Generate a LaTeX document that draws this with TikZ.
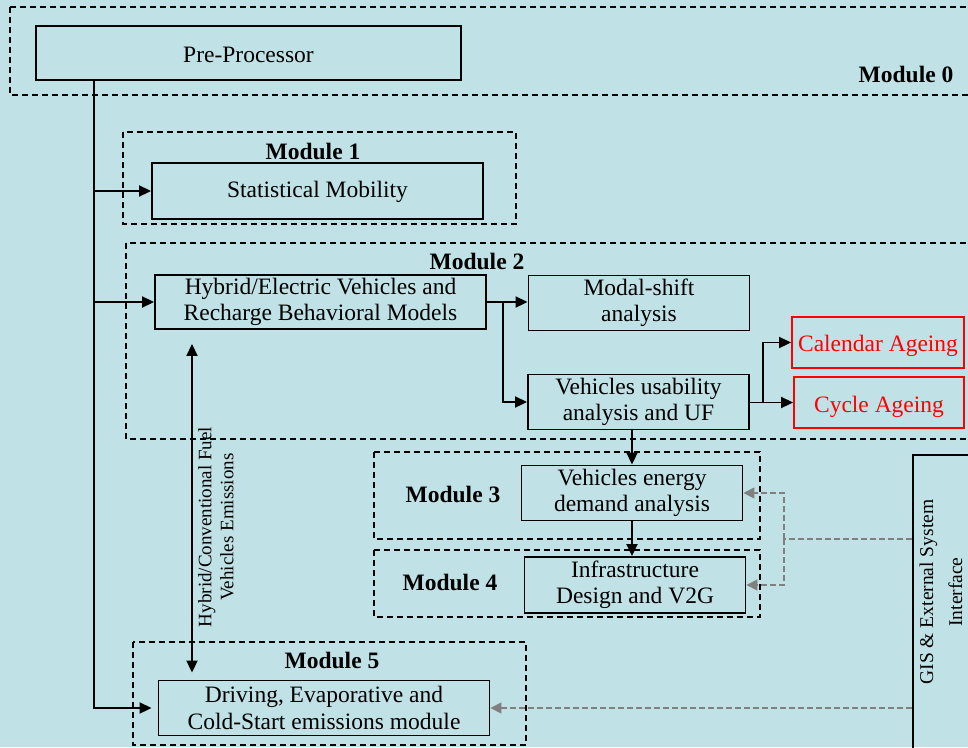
\documentclass[tikz,border=0pt]{standalone}
\usepackage{fontspec}
\setmainfont{Liberation Serif}
\usepackage{xcolor}
\usepackage{tikz}
\usetikzlibrary{positioning,arrows.meta}
\definecolor{bgblue}{RGB}{192,225,230}
\definecolor{arrgray}{RGB}{128,128,128}

\begin{document}
\begin{tikzpicture}[x=1pt,y=-1pt,
  box/.style={draw, line width=1.9pt, inner sep=0pt, align=center, font=\fontsize{23.5}{26.5}\selectfont},
  redbox/.style={box, draw=red, text=red},
  module/.style={draw, line width=1.5pt, dash pattern=on 6pt off 4pt},
  modname/.style={font=\fontsize{23.5}{26.5}\selectfont\bfseries},
  arr/.style={line width=1.9pt, -{Triangle[length=12pt,width=11pt]}},
  dblarr/.style={line width=1.9pt, {Triangle[length=12pt,width=11pt]}-{Triangle[length=12pt,width=11pt]}},
  gisline/.style={draw=arrgray, line width=1.4pt, dash pattern=on 6pt off 3pt},
  gisarr/.style={gisline, -{Triangle[length=11pt,width=11pt]}, arrgray}]
\useasboundingbox (0,0) rectangle (968,747);
\fill[bgblue] (0,0) rectangle (968,747);
\clip (0,0) rectangle (968,747);

\draw[module] (10,7) rectangle (990,95);
\draw[module] (123,132) rectangle (516,224);
\draw[module] (126,243) rectangle (990,439);
\draw[module] (374,452) rectangle (760,539);
\draw[module] (374,550) rectangle (760,617);
\draw[module] (133,642) rectangle (526,745);

\node[modname] (m0) at (906,74) {Module 0};
\node[modname] (m1) at (313,151) {Module 1};
\node[modname] (m2) at (477,261) {Module 2};
\node[modname] (m3) at (453,494) {Module 3};
\node[modname] (m4) at (450,582) {Module 4};
\node[modname] (m5) at (332,660) {Module 5};

\node[box, minimum width=425pt, minimum height=54pt, text height=19pt] (pre) at (248.5,53) {Pre-Processor};
\node[box, minimum width=331pt, minimum height=56pt, text height=19pt] (stat) at (317.5,191) {Statistical Mobility};
\node[box, minimum width=331pt, minimum height=54pt] (hyb) at (320.5,302) {Hybrid/Electric Vehicles and\\Recharge Behavioral Models};
\node[box, minimum width=221pt, minimum height=55pt] (modal) at (639,303) {Modal-shift\\analysis};
\node[box, minimum width=221pt, minimum height=55pt] (usa) at (638.5,402) {Vehicles usability\\analysis and UF};
\node[redbox, minimum width=172pt, minimum height=51pt, text height=24pt] (cal) at (878,342.5) {Calendar Ageing};
\node[redbox, minimum width=170pt, minimum height=51pt, text height=26pt] (cyc) at (879,402.5) {Cycle Ageing};
\node[box, minimum width=221pt, minimum height=55pt] (ene) at (632,493) {Vehicles energy\\demand analysis};
\node[box, minimum width=221pt, minimum height=56pt] (inf) at (635,585) {Infrastructure\\Design and V2G};
\node[box, minimum width=331pt, minimum height=55pt] (drv) at (324,708) {Driving, Evaporative and\\Cold-Start emissions module};
\node[box, anchor=north west, minimum width=80pt, minimum height=320pt] (gis) at (912,454) {};
\node[rotate=90, align=center, font=\fontsize{19.5}{29}\selectfont] (gistext) at (941,592) {GIS \& External System\\Interface};
\node[rotate=90, align=center, font=\fontsize{19}{22}\selectfont] (emistext) at (216,527) {Hybrid/Conventional Fuel\\Vehicles Emissions};

\coordinate (trunk) at (94,0);
\coordinate (split) at (503,0);
\coordinate (split2) at (763,0);
\coordinate (emis) at (192,0);
\coordinate (gsplit) at (784,539);

\draw[arr, shorten >=6pt] (pre.south -| trunk) |- (drv.west);
\draw[arr] (trunk |- stat.west) -- (stat.west);
\draw[arr] (trunk |- hyb.west) -- (hyb.west);
\draw[arr] (hyb.east) -- (hyb.east -| modal.west);
\draw[arr] (split |- hyb.east) |- (usa.west);
\draw[arr] (usa.east |- cyc.west) -- (cyc.west);
\draw[arr] (split2 |- cyc.west) |- (cal.west);
\draw[arr] (ene.north |- usa.south) -- (ene.north);
\draw[arr] (ene.south) -- (ene.south |- inf.north);
\draw[dblarr, shorten <=14pt, shorten >=7pt] (hyb.south -| emis) -- (drv.north -| emis);

\draw[gisline] (gis.west |- gsplit) -- (gsplit);
\draw[gisarr] (gsplit) |- (ene.east);
\draw[gisarr] (gsplit) |- (inf.east);
\draw[gisarr] (gis.west |- drv.east) -- (drv.east);
\end{tikzpicture}
\end{document}
